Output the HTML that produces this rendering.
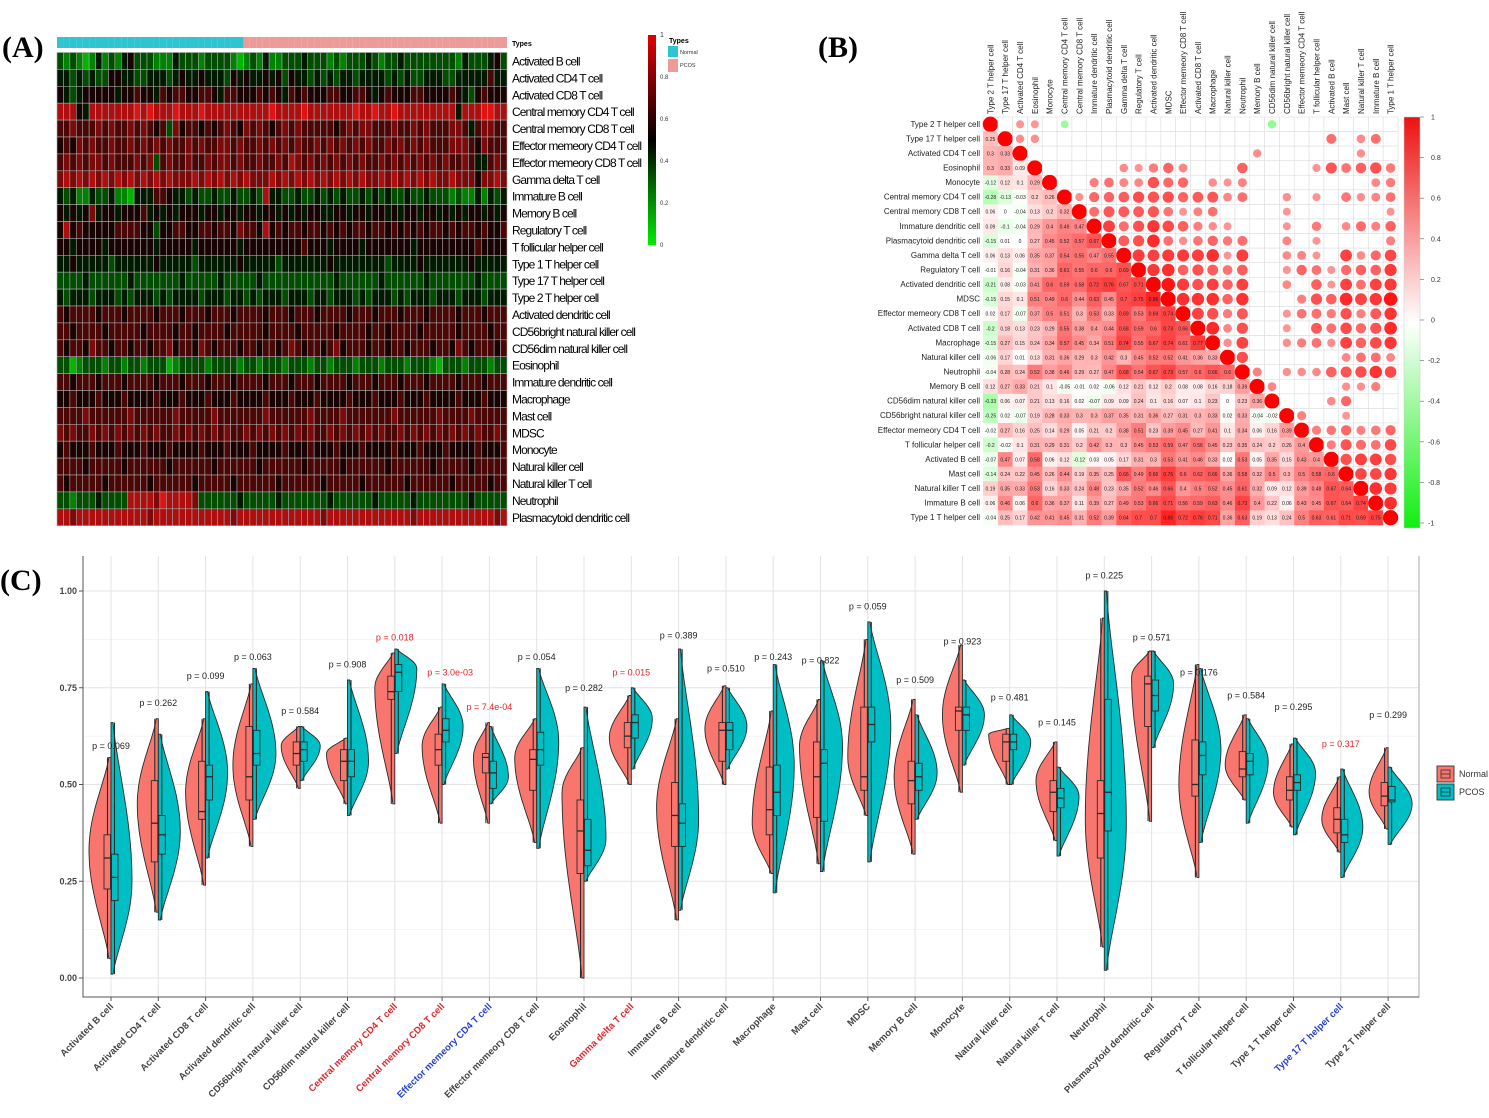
<!DOCTYPE html>
<html><head><meta charset="utf-8"><style>
html,body{margin:0;padding:0;background:#fff}
svg{display:block}
text{font-family:"Liberation Sans",sans-serif}
text.serif{font-family:"Liberation Serif",serif}
</style></head><body>
<svg id="fig" width="1489" height="1118" viewBox="0 0 1489 1118" xmlns="http://www.w3.org/2000/svg">
<rect width="1489" height="1118" fill="#fff"/>
<text class="serif" x="2" y="57" font-weight="bold" font-size="30">(A)</text>
<text class="serif" x="818" y="57" font-weight="bold" font-size="30">(B)</text>
<text class="serif" x="0" y="590" font-weight="bold" font-size="30">(C)</text>
<g id="gA"></g>
<g id="gB"></g>
<g id="gC"></g>
</svg>
<script>
// ---------- Panel A data ----------
const heatRows = ["Activated B cell","Activated CD4 T cell","Activated CD8 T cell","Central memory CD4 T cell","Central memory CD8 T cell","Effector memeory CD4 T cell","Effector memeory CD8 T cell","Gamma delta T cell","Immature  B cell","Memory B cell","Regulatory T cell","T follicular helper cell","Type 1 T helper cell","Type 17 T helper cell","Type 2 T helper cell","Activated dendritic cell","CD56bright natural killer cell","CD56dim natural killer cell","Eosinophil","Immature dendritic cell","Macrophage","Mast cell","MDSC","Monocyte","Natural killer cell","Natural killer T cell","Neutrophil","Plasmacytoid dendritic cell"];
const heatNormalCount = 29;
const heatValues = [
"3232124232 4533322243 3323333212 3242233343 3323233343 2334333333 3324333453",
"4434343355 4433444345 4454443545 4454535443 4343443444 4343433444 3344444644",
"5434555554 5565546566 5566546655 5656546565 5566556654 5655566555 5654356555",
"8885488888 8898988898 8898888888 8889888898 8888889889 8898888888 8848889988",
"6676667676 6767656375 6656567657 6765676766 6665676776 6676676766 6776467766",
"5657676676 6767676766 7676677676 6767676766 7676767676 6767676766 6777657666",
"6767677676 6676736766 7667677676 6766768767 6767676766 7676767676 7667644676",
"7878787878 7878787877 7878787878 7778787878 7878787877 8787878787 7877757787",
"4342243342 2144466544 3433433433 4384433433 4343433434 3433433433 3232242434",
"5454574554 5556454545 5545545545 5455454545 5445545545 5454554554 5454554545",
"5856555556 6665535566 5566566576 6585656656 6565656656 6565656566 5656656556",
"5545555455 5555545555 5455555545 5555555565 5545555455 5555545555 5555565555",
"4454444434 4444454444 4344444454 4444344444 4454444444 4344445444 4444544444",
"3333433333 3433333334 3333343333 3433333333 3334333333 4333333433 3333343333",
"4344434443 4344434344 4434443443 4344434443 4434443434 4434344434 4434443444",
"6566665666 5666656665 6665666566 6656665666 5666656665 6665666566 6656665666",
"6656666566 6665666656 6566665666 6656666566 6665666656 6566665666 6656666566",
"6566576656 6566566756 6576566656 6566567656 6567566656 6566566656 6576566656",
"3312333233 2332333123 3332333323 3233323332 3323332333 2333233321 3332333233",
"6656665666 5666656665 6665666566 6656665666 5666656665 6665666566 6656665666",
"5565556555 6555565556 5556555655 5565556555 6555565556 5556555655 5565556555",
"6666766666 6766666676 6666766666 6676666667 6666766666 6676666667 6666766666",
"7676676767 6767676676 7676767667 6767676767 6676767676 7667676767 6767676676",
"5655565556 5556555655 5565556555 6555565556 5556555655 5565556555 6555565556",
"6666566666 5666666566 6666566666 6566666656 6666566666 6566666656 6666566666",
"6566666566 6666566666 6566666566 6666566666 6566666566 6666566666 6566666566",
"3323334333 3888879888 8733333343 3333433333 3343333334 3333343333 3333433333",
"8878888888 8888788888 8888888788 8888888888 8788888888 8888878888 8888888878"
];
const heatTicks = ["1","0.8","0.6","0.4","0.2","0"];

// ---------- Panel B data ----------
const corrLabels = ["Type 2 T helper cell","Type 17 T helper cell","Activated CD4 T cell","Eosinophil","Monocyte","Central memory CD4 T cell","Central memory CD8 T cell","Immature dendritic cell","Plasmacytoid dendritic cell","Gamma delta T cell","Regulatory T cell","Activated dendritic cell","MDSC","Effector memeory CD8 T cell","Activated CD8 T cell","Macrophage","Natural killer cell","Neutrophil","Memory B cell","CD56dim natural killer cell","CD56bright natural killer cell","Effector memeory CD4 T cell","T follicular helper cell","Activated B cell","Mast cell","Natural killer T cell","Immature  B cell","Type 1 T helper cell"];
const corrLower = [
[],
[.25],
[.30,.33],
[.30,.33,.09],
[-.12,.12,.1,.29],
[-.28,-.13,-.03,.2,.26],
[.06,0,-.04,.13,.20,.32],
[.09,-.1,-.04,.29,.4,.49,.47],
[-.15,.01,0,.27,.45,.52,.57,.67],
[.06,.13,.06,.35,.37,.54,.55,.47,.55],
[-.01,.16,-.04,.31,.36,.61,.55,.6,.6,.69],
[-.21,.08,-.03,.41,.60,.59,.58,.72,.76,.67,.71],
[-.15,.15,.1,.51,.49,.6,.44,.63,.45,.7,.75,.86],
[.02,.17,-.07,.37,.50,.51,.30,.53,.33,.69,.53,.69,.74],
[-.2,.18,.13,.23,.29,.55,.38,.4,.44,.68,.59,.60,.73,.66],
[-.15,.27,.15,.24,.34,.57,.45,.34,.51,.74,.55,.67,.74,.61,.77],
[-.06,.17,.01,.13,.31,.36,.29,.30,.42,.30,.45,.52,.52,.41,.36,.33],
[-.04,.28,.24,.52,.38,.46,.29,.27,.47,.68,.54,.67,.73,.57,.6,.66,.60],
[.12,.27,.33,.21,.1,-.05,-.01,.02,-.06,.12,.21,.12,.20,.08,.08,.16,.18,.39],
[-.33,.06,.07,.21,.13,.16,.02,-.07,.09,.09,.24,.1,.16,.07,.10,.23,0,.23,.36],
[-.25,.02,-.07,.19,.28,.33,.3,.3,.37,.35,.31,.36,.27,.31,.3,.33,.02,.33,-.04,-.02],
[-.02,.27,.16,.25,.14,.29,.05,.21,.2,.38,.51,.23,.39,.45,.27,.41,.1,.34,.06,.16,.39],
[-.2,-.02,.1,.31,.29,.31,.2,.42,.3,.30,.45,.53,.59,.47,.56,.45,.23,.35,.24,.2,.26,.4],
[-.07,.47,.07,.58,.06,.12,-.12,.03,.05,.17,.31,.3,.53,.41,.46,.33,.02,.53,.05,.35,.15,.43,.4],
[-.14,.24,.22,.45,.26,.44,.19,.35,.25,.66,.49,.66,.76,.6,.62,.66,.36,.58,.32,.5,.30,.5,.58,.60],
[.19,.35,.33,.53,.16,.33,.24,.48,.23,.35,.52,.46,.66,.4,.5,.52,.45,.61,.32,.09,.12,.39,.48,.67,.64],
[.06,.46,.06,.6,.36,.37,.11,.39,.27,.49,.53,.66,.71,.56,.59,.63,.46,.73,.4,.22,.06,.43,.45,.67,.64,.74],
[-.04,.25,.17,.42,.41,.45,.31,.52,.39,.64,.7,.7,.86,.72,.76,.71,.36,.63,.19,.13,.24,.5,.63,.61,.71,.69,.75]
];
const corrTicks = ["1","0.8","0.6","0.4","0.2","0","-0.2","-0.4","-0.6","-0.8","-1"];

// ---------- Panel C data ----------
const vCats = ["Activated B cell","Activated CD4 T cell","Activated CD8 T cell","Activated dendritic cell","CD56bright natural killer cell","CD56dim natural killer cell","Central memory CD4 T cell","Central memory CD8 T cell","Effector memeory CD4 T cell","Effector memeory CD8 T cell","Eosinophil","Gamma delta T cell","Immature  B cell","Immature dendritic cell","Macrophage","Mast cell","MDSC","Memory B cell","Monocyte","Natural killer cell","Natural killer T cell","Neutrophil","Plasmacytoid dendritic cell","Regulatory T cell","T follicular helper cell","Type 1 T helper cell","Type 17 T helper cell","Type 2 T helper cell"];
const vLabelColor = ["k","k","k","k","k","k","r","r","b","k","k","r","k","k","k","k","k","k","k","k","k","k","k","k","k","k","b","k"];
const nMin  = [.05,.17,.24,.34,.49,.45,.45,.40,.40,.35,0,.50,.15,.50,.27,.295,.42,.32,.48,.50,.355,.08,.405,.26,.46,.39,.325,.385];
const nQ1   = [.23,.30,.41,.46,.55,.51,.72,.55,.53,.485,.27,.595,.34,.56,.37,.415,.485,.45,.64,.56,.43,.31,.65,.47,.52,.46,.375,.445];
const nMed  = [.31,.40,.43,.52,.58,.56,.74,.59,.57,.565,.38,.625,.42,.64,.435,.52,.52,.51,.69,.61,.48,.425,.76,.50,.54,.485,.41,.47];
const nQ3   = [.37,.51,.56,.65,.61,.59,.78,.63,.58,.59,.46,.66,.505,.66,.545,.61,.70,.56,.70,.63,.51,.51,.78,.615,.585,.52,.44,.505];
const nMax  = [.57,.67,.67,.76,.65,.62,.84,.70,.66,.67,.595,.73,.67,.755,.69,.72,.875,.72,.86,.645,.61,.93,.845,.81,.68,.605,.52,.595];
const nMode = [.33,.45,.48,.55,.60,.58,.75,.60,.57,.57,.48,.62,.44,.645,.40,.60,.57,.52,.68,.63,.51,.41,.78,.50,.55,.48,.41,.48];
const nWidth= [22,21,20,20,19,21,20,20,16,22,22,22,22,21,21,21,20,21,20,21,21,19,20,20,21,20,19,19];
const pMin  = [.01,.15,.31,.41,.51,.42,.58,.50,.45,.335,.25,.54,.175,.54,.22,.275,.30,.41,.55,.50,.315,.02,.595,.35,.40,.37,.26,.345];
const pQ1   = [.20,.32,.46,.55,.56,.52,.74,.61,.49,.55,.29,.62,.34,.59,.42,.405,.61,.485,.64,.59,.44,.38,.69,.525,.525,.485,.35,.455];
const pMed  = [.26,.37,.52,.58,.59,.56,.79,.64,.53,.59,.33,.66,.40,.64,.48,.555,.655,.52,.68,.61,.465,.48,.73,.575,.56,.505,.37,.46];
const pQ3   = [.32,.42,.55,.64,.61,.59,.81,.67,.56,.635,.41,.68,.45,.66,.55,.59,.70,.555,.70,.63,.49,.72,.77,.61,.58,.525,.41,.495];
const pMax  = [.66,.63,.74,.80,.65,.77,.85,.76,.65,.80,.70,.75,.85,.75,.81,.82,.92,.68,.77,.68,.545,1.0,.845,.80,.67,.62,.54,.545];
const pMode = [.25,.38,.53,.58,.60,.56,.80,.65,.52,.61,.36,.67,.41,.65,.55,.60,.65,.53,.68,.61,.47,.40,.76,.59,.56,.53,.39,.45];
const pWidth= [21,22,22,23,20,21,22,21,19,22,22,21,20,21,21,22,23,22,22,21,22,22,22,22,22,22,22,24];
const pText = ["0.069","0.262","0.099","0.063","0.584","0.908","0.018","3.0e-03","7.4e-04","0.054","0.282","0.015","0.389","0.510","0.243","0.822","0.059","0.509","0.923","0.481","0.145","0.225","0.571","0.176","0.584","0.295","0.317","0.299"];
const pLabelY = [.60,.71,.78,.83,.69,.81,.88,.79,.70,.83,.75,.79,.885,.80,.83,.82,.96,.77,.87,.725,.66,1.04,.88,.79,.73,.70,.605,.68];
const pSig = [0,0,0,0,0,0,1,1,1,0,0,1,0,0,0,0,0,0,0,0,0,0,0,0,0,0,1,0];
const yTicks = [0,0.25,0.5,0.75,1.0];
const yTickText = ["0.00","0.25","0.50","0.75","1.00"];

const NS = "http://www.w3.org/2000/svg";
function mk(parent, tag, attrs, txt){
  const e = document.createElementNS(NS, tag);
  for (const k in attrs) e.setAttribute(k, attrs[k]);
  if (txt !== undefined) e.textContent = txt;
  parent.appendChild(e);
  return e;
}

// ================= Panel A =================
(function(){
  const g = document.getElementById('gA');
  const x0 = 57, x1 = 507, y0 = 52.5, rh = 16.9;
  const rowsData = heatValues.map(s => s.replace(/ /g,''));
  const nCols = rowsData[0].length;
  const cw = (x1 - x0) / nCols;
  function heatColor(d){
    const t = d / 9;
    if (t < 0.5) { const gg = Math.round(235 * (1 - 2*t)); return `rgb(0,${gg},0)`; }
    const r = Math.round(225 * (2*t - 1)); return `rgb(${r},${Math.round(r*0.08)},${Math.round(r*0.08)})`;
  }
  for (let c = 0; c < nCols; c++){
    const a = mk(g,'rect',{x:x0+c*cw,y:37,width:cw,height:11,fill:c<heatNormalCount?'#2ec4d0':'#ee9a98'});
    
    
  }
  const tl = mk(g,'text',{x:512,y:46,'font-size':7,'font-weight':'bold'},'Types');
  
  
  rowsData.forEach((s, r) => {
    for (let c = 0; c < nCols; c++){
      const d = parseInt(s[c] || '5');
      const e = mk(g,'rect',{x:x0+c*cw,y:y0+r*rh,width:cw,height:rh,fill:heatColor(d),stroke:'#a9a9a9','stroke-width':0.6});
      
      
    }
    const t = mk(g,'text',{x:512,y:y0+r*rh+rh/2+4.5,'font-size':12,'letter-spacing':'-0.9'},heatRows[r]);
    
    
  });
  const defs = mk(g,'defs',{});
  const lg = mk(defs,'linearGradient',{id:'hgrad',x1:0,y1:0,x2:0,y2:1});
  mk(lg,'stop',{offset:'0','stop-color':'#e00000'});
  mk(lg,'stop',{offset:'0.5','stop-color':'#000'});
  mk(lg,'stop',{offset:'1','stop-color':'#00ee00'});
  const cb = mk(g,'rect',{x:648,y:35,width:8,height:210,fill:'url(#hgrad)'});
  
  
  heatTicks.forEach((t,i) => {
    const e = mk(g,'text',{x:660,y:37+i*42,'font-size':i===0?7:6,fill:'#333'},t);
    
    
  });
  const lt = mk(g,'text',{x:669,y:43,'font-size':7,'font-weight':'bold'},'Types');
  
  
  const l1 = mk(g,'rect',{x:668,y:46,width:10,height:11,fill:'#2ec4d0'});
  
  
  const l2 = mk(g,'rect',{x:668,y:59,width:10,height:13,fill:'#ee9a98'});
  
  
  const lt1 = mk(g,'text',{x:680,y:54,'font-size':5.5,fill:'#333'},'Normal');
  
  
  const lt2 = mk(g,'text',{x:680,y:67,'font-size':5.5,fill:'#333'},'PCOS');
  
  
})();

// ================= Panel B =================
(function(){
  const g = document.getElementById('gB');
  const n = corrLabels.length;
  const gx0 = 983, gx1 = 1398, gy0 = 117, gy1 = 525;
  const cw = (gx1-gx0)/n, ch = (gy1-gy0)/n;
  function val(i,j){ if (i===j) return 1; return i>j ? corrLower[i][j] : corrLower[j][i]; }
  function col(r){
    if (r >= 0){ const k = Math.round(255*(1-r)); return `rgb(255,${k},${k})`; }
    const k = Math.round(255*(1+r)); return `rgb(${k},255,${k})`;
  }
  for (let i=0;i<n;i++){
    for (let j=0;j<n;j++){
      const r = val(i,j);
      const cx = gx0 + j*cw, cy = gy0 + i*ch;
      if (j < i){
        const e = mk(g,'rect',{x:cx,y:cy,width:cw+0.3,height:ch+0.3,fill:col(Math.max(-1,Math.min(1,r*1.0)))});
        
        
        const s = (r===0?'0':String(r));
        const t = mk(g,'text',{x:cx+cw/2,y:cy+ch/2+2,'font-size':5,'text-anchor':'middle',fill:'#222'},s);
        
        
      } else {
        const e = mk(g,'rect',{x:cx,y:cy,width:cw,height:ch,fill:'#fff',stroke:'#dedede','stroke-width':0.6});
        
        
        if (i===j || Math.abs(r) >= 0.3 || (i===0 && j===5)){
          const rad = Math.sqrt(Math.abs(r)) * Math.min(cw,ch)/2 * (i===j?1.05:1);
          const c = mk(g,'circle',{cx:cx+cw/2,cy:cy+ch/2,r:rad,fill:i===j?'#f00':col(Math.sign(r)*Math.min(1,Math.abs(r)*0.9+0.15))});
          
          
        }
      }
    }
    const t = mk(g,'text',{x:gx0-3,y:gy0+i*ch+ch/2+2.5,'font-size':8,'text-anchor':'end',fill:'#222'},corrLabels[i]);
    
    
    const cx = gx0 + i*cw + cw/2 + 3;
    const tc = mk(g,'text',{x:cx,y:gy0-3,'font-size':8,fill:'#222',transform:`rotate(-90 ${cx} ${gy0-3})`},corrLabels[i]);
    
    
  }
  const defs = mk(g,'defs',{});
  const lg = mk(defs,'linearGradient',{id:'cgrad',x1:0,y1:0,x2:0,y2:1});
  mk(lg,'stop',{offset:'0','stop-color':'#ee1111'});
  mk(lg,'stop',{offset:'0.5','stop-color':'#fff'});
  mk(lg,'stop',{offset:'1','stop-color':'#11ee11'});
  const cb = mk(g,'rect',{x:1404,y:117,width:16,height:411,fill:'url(#cgrad)',stroke:'#ccc','stroke-width':0.5});
  
  
  corrTicks.forEach((t,i) => {
    const y = 117 + i*40.6;
    mk(g,'line',{x1:1420,x2:1424,y1:y,y2:y,stroke:'#666','stroke-width':0.6});
    const e = mk(g,'text',{x:1428+(t.startsWith('-')?0:3),y:y+2.5,'font-size':7,fill:'#333'},t);
    
    
  });
})();

// ================= Panel C =================
(function(){
  const g = document.getElementById('gC');
  const L = 83, R = 1419, T = 556, B = 997;
  const Y = v => 978 - v*387;
  const X = i => 111 + i*47.3;
  for (let v=-0.125; v<=1.13; v+=0.125){
    const major = Math.abs((v/0.25) - Math.round(v/0.25)) < 1e-6;
    const y = Y(v);
    if (y < T || y > B) continue;
    const e = mk(g,'line',{x1:L,x2:R,y1:y,y2:y,stroke:major?'#e4e4e4':'#f2f2f2','stroke-width':major?1.1:0.7});
    
    
  }
  vCats.forEach((c,i) => {
    const e = mk(g,'line',{x1:X(i),x2:X(i),y1:T,y2:B,stroke:'#e4e4e4','stroke-width':1});
    
    
  });
  const ax = mk(g,'path',{d:`M${L} ${T}V${B}H${R}V${T}`,fill:'none',stroke:'#aaa','stroke-width':1});
  
  
  const ax2 = mk(g,'path',{d:`M${L} ${T}V${B}H${R}`,fill:'none',stroke:'#555','stroke-width':1});
  
  
  yTicks.forEach((v,i) => {
    mk(g,'line',{x1:L-4,x2:L,y1:Y(v),y2:Y(v),stroke:'#555'});
    const t = mk(g,'text',{x:L-6,y:Y(v)+3,'font-size':9,'font-weight':'bold','text-anchor':'end',fill:'#444'},yTickText[i]);
    
    
  });
  function halfPath(cx, side, mn, mx, mode, W){
    const pts = [];
    const N = 40;
    for (let k=0;k<=N;k++){
      const v = mn + (mx-mn)*k/N;
      let f = v < mode ? (v-mn)/Math.max(mode-mn,1e-3) : (mx-v)/Math.max(mx-mode,1e-3);
      f = Math.max(0, Math.min(1, f));
      const w = W*(0.1 + 0.9*Math.pow(Math.sin(f*Math.PI/2),1.3));
      pts.push([cx + side*w, Y(v)]);
    }
    let d = `M${cx} ${Y(mn)}`;
    pts.forEach(p => d += `L${p[0].toFixed(1)} ${p[1].toFixed(1)}`);
    d += `L${cx} ${Y(mx)}Z`;
    return d;
  }
  const colLab = {k:'#444', r:'#e0262b', b:'#2540d0'};
  vCats.forEach((name,i) => {
    const cx = X(i);
    const vn = mk(g,'path',{d:halfPath(cx,-1,nMin[i],nMax[i],nMode[i],nWidth[i]),fill:'#F8766D',stroke:'#2a2a2a','stroke-width':0.9});
    
    
    const vp = mk(g,'path',{d:halfPath(cx,1,pMin[i],pMax[i],pMode[i],pWidth[i]),fill:'#00BFC4',stroke:'#2a2a2a','stroke-width':0.9});
    
    
    const wn = mk(g,'line',{x1:cx-3.5,x2:cx-3.5,y1:Y(nMin[i]),y2:Y(nMax[i]),stroke:'#2a2a2a','stroke-width':1.1});
    
    
    const bn = mk(g,'rect',{x:cx-7,y:Y(nQ3[i]),width:6.5,height:Y(nQ1[i])-Y(nQ3[i]),fill:'#F8766D',stroke:'#2a2a2a','stroke-width':0.9});
    
    
    mk(g,'line',{x1:cx-7,x2:cx-0.5,y1:Y(nMed[i]),y2:Y(nMed[i]),stroke:'#2a2a2a','stroke-width':1.3});
    const wp = mk(g,'line',{x1:cx+3.5,x2:cx+3.5,y1:Y(pMin[i]),y2:Y(pMax[i]),stroke:'#2a2a2a','stroke-width':1.1});
    
    
    const bp = mk(g,'rect',{x:cx+0.5,y:Y(pQ3[i]),width:6.5,height:Y(pQ1[i])-Y(pQ3[i]),fill:'#00BFC4',stroke:'#2a2a2a','stroke-width':0.9});
    
    
    mk(g,'line',{x1:cx+0.5,x2:cx+7,y1:Y(pMed[i]),y2:Y(pMed[i]),stroke:'#2a2a2a','stroke-width':1.3});
    const pl = mk(g,'text',{x:cx+(i===7?8:0),y:Y(pLabelY[i])+3,'font-size':9,'text-anchor':'middle',fill:pSig[i]?'#e0262b':'#222'},'p = '+pText[i]);
    
    
    mk(g,'line',{x1:cx,x2:cx,y1:B,y2:B+4,stroke:'#555'});
    const tx = cx+3, ty = B+10;
    const xl = mk(g,'text',{x:tx,y:ty,'font-size':9.5,'font-weight':'bold','text-anchor':'end',fill:colLab[vLabelColor[i]],transform:`rotate(-45 ${tx} ${ty})`},name);
    
    
  });
  [['Normal','#F8766D',766],['PCOS','#00BFC4',784]].forEach(([lab,fill,y]) => {
    const r = mk(g,'rect',{x:1437,y:y,width:17,height:16,fill:fill,stroke:'#333','stroke-width':0.9});
    
    
    mk(g,'rect',{x:1441,y:y+4,width:9,height:8,fill:'none',stroke:'#333','stroke-width':0.8});
    mk(g,'line',{x1:1441,x2:1450,y1:y+8,y2:y+8,stroke:'#333','stroke-width':0.8});
    const t = mk(g,'text',{x:1459,y:y+11,'font-size':9,fill:'#333'},lab);
    
    
  });
})();
</script>
</body></html>
